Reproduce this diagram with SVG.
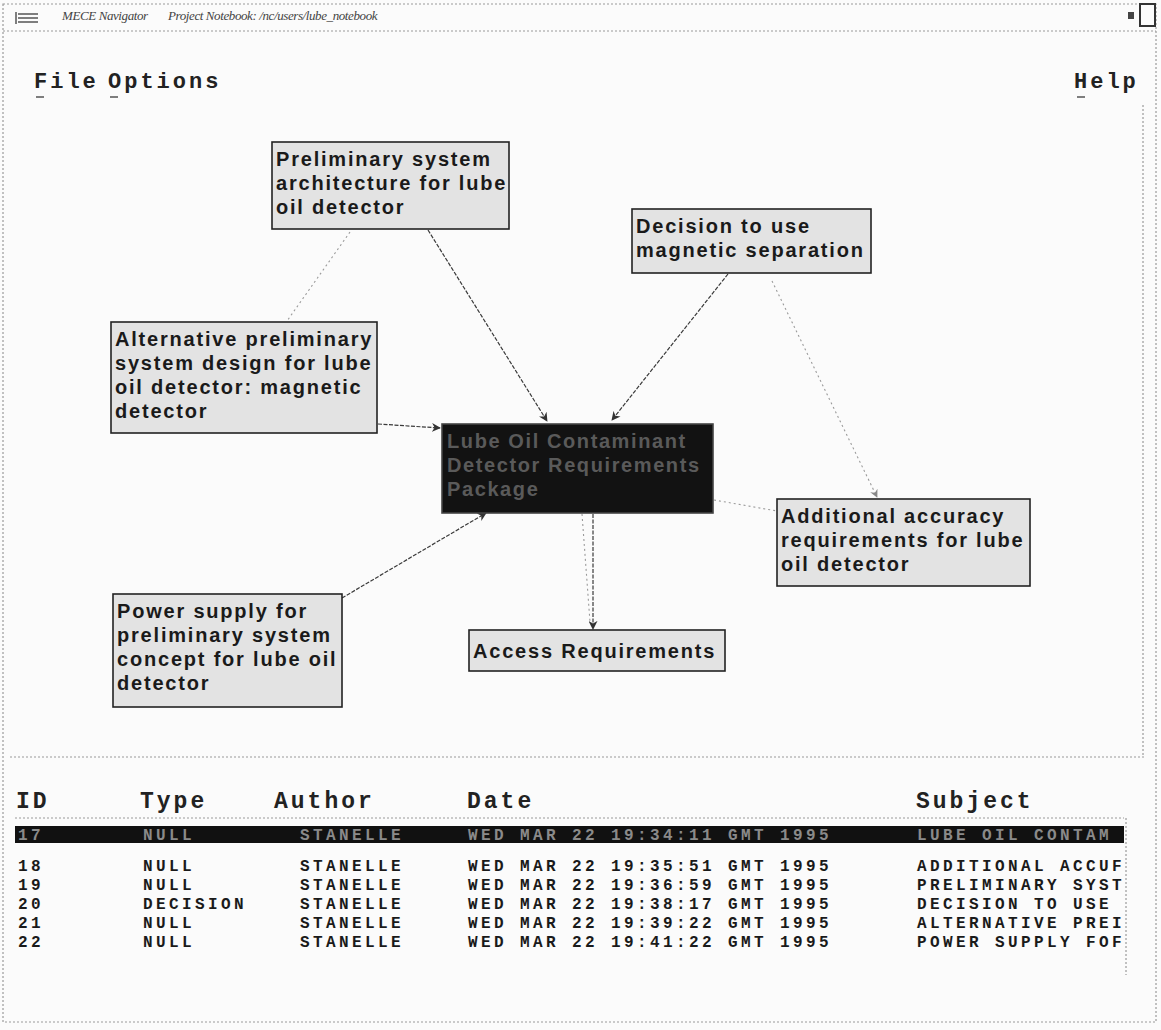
<svg xmlns="http://www.w3.org/2000/svg" width="1161" height="1030" viewBox="0 0 1161 1030">
<style>
.bg{fill:#fbfbfb}
.frame{fill:none;stroke:#9a9a9a;stroke-width:1.2;stroke-dasharray:2 2}
.title{font-family:"Liberation Serif",serif;font-style:italic;font-size:13px;letter-spacing:-0.4px;fill:#444}
.menu{font-family:"Liberation Mono",monospace;font-weight:bold;font-size:22px;letter-spacing:3px;fill:#222}
.node rect{fill:#e3e3e3;stroke:#222;stroke-width:1.6}
.node text{font-family:"Liberation Sans",Arial,sans-serif;font-weight:bold;font-size:20px;letter-spacing:1.8px;fill:#1a1a1a}
.dark rect{fill:#121212;stroke:#444;stroke-width:1.6}
.dark text{font-family:"Liberation Sans",Arial,sans-serif;font-weight:bold;font-size:20px;letter-spacing:1.6px;fill:#5a5a5a}
.c{fill:none;stroke:#3a3a3a;stroke-width:1.2;stroke-dasharray:4 1.5}
.cl{fill:none;stroke:#9a9a9a;stroke-width:1.1;stroke-dasharray:2 3}
.hd{font-family:"Liberation Mono",monospace;font-weight:bold;font-size:23px;letter-spacing:3px;fill:#222}
.row{font-family:"Liberation Mono",monospace;font-weight:bold;font-size:16px;letter-spacing:3.4px;fill:#1a1a1a}
.sel{font-family:"Liberation Mono",monospace;font-weight:bold;font-size:16px;letter-spacing:3.4px;fill:#8a8a8a}
</style>
<defs>
<marker id="ah" viewBox="0 0 10 10" refX="9" refY="5" markerWidth="9" markerHeight="9" markerUnits="userSpaceOnUse" orient="auto">
<path d="M0,0 L10,5 L0,10 L3,5 Z" fill="#333"/>
</marker>
<marker id="ahl" viewBox="0 0 10 10" refX="9" refY="5" markerWidth="8" markerHeight="8" markerUnits="userSpaceOnUse" orient="auto">
<path d="M0,0 L10,5 L0,10 L3,5 Z" fill="#888"/>
</marker>
</defs>
<rect class="bg" x="0" y="0" width="1161" height="1030"/>
<g id="window">
<rect class="frame" x="3" y="4" width="1153" height="1018"/>
<line class="frame" x1="3" y1="31" x2="1156" y2="31"/>
<path d="M18,14 h20 M18,18 h20 M18,22 h20 M16,12 v12" stroke="#555" stroke-width="1.5" fill="none"/>
<text class="title" x="62" y="20">MECE Navigator</text>
<text class="title" x="168" y="20">Project Notebook: /nc/users/lube_notebook</text>
<rect x="1128" y="12" width="6" height="7" fill="#444"/>
<rect x="1140" y="4" width="15" height="22" fill="none" stroke="#333" stroke-width="2"/>
<text class="menu" x="34" y="88">File</text>
<text class="menu" x="108" y="88">Options</text>
<text class="menu" x="1074" y="88">Help</text>
<path d="M36,97 h8 M110,97 h8 M1077,97 h8" stroke="#555" stroke-width="1.5"/>
<line class="frame" x1="1143" y1="105" x2="1143" y2="757"/>
<line class="frame" x1="10" y1="757" x2="1145" y2="757"/>
</g>
<g id="connectors">
<line class="c" x1="428" y1="230" x2="547" y2="421" marker-end="url(#ah)"/>
<line class="c" x1="728" y1="274" x2="612" y2="420" marker-end="url(#ah)"/>
<line class="c" x1="378" y1="424" x2="440" y2="428" marker-end="url(#ah)"/>
<line class="c" x1="342" y1="598" x2="486" y2="513" marker-end="url(#ah)"/>
<line class="c" x1="593" y1="514" x2="593" y2="629" marker-end="url(#ah)"/>
<line class="cl" x1="582" y1="514" x2="590" y2="622"/>
<line class="cl" x1="350" y1="232" x2="287" y2="321"/>
<line class="cl" x1="772" y1="281" x2="877" y2="497" marker-end="url(#ahl)"/>
<line class="cl" x1="714" y1="500" x2="777" y2="511"/>
</g>
<g id="n-prelim" class="node">
<rect x="272" y="142" width="237" height="87"/>
<text x="276" y="166">Preliminary system</text>
<text x="276" y="190">architecture for lube</text>
<text x="276" y="214">oil detector</text>
</g>
<g id="n-decision" class="node">
<rect x="632" y="209" width="239" height="64"/>
<text x="636" y="233">Decision to use</text>
<text x="636" y="257">magnetic separation</text>
</g>
<g id="n-alt" class="node">
<rect x="111" y="322" width="266" height="111"/>
<text x="115" y="346">Alternative preliminary</text>
<text x="115" y="370">system design for lube</text>
<text x="115" y="394">oil detector: magnetic</text>
<text x="115" y="418">detector</text>
</g>
<g id="n-central" class="dark">
<rect x="442" y="424" width="271" height="89"/>
<text x="447" y="448">Lube Oil Contaminant</text>
<text x="447" y="472">Detector Requirements</text>
<text x="447" y="496">Package</text>
</g>
<g id="n-additional" class="node">
<rect x="777" y="499" width="253" height="87"/>
<text x="781" y="523">Additional accuracy</text>
<text x="781" y="547">requirements for lube</text>
<text x="781" y="571">oil detector</text>
</g>
<g id="n-power" class="node">
<rect x="113" y="594" width="229" height="113"/>
<text x="117" y="618">Power supply for</text>
<text x="117" y="642">preliminary system</text>
<text x="117" y="666">concept for lube oil</text>
<text x="117" y="690">detector</text>
</g>
<g id="n-access" class="node">
<rect x="469" y="630" width="256" height="41"/>
<text x="473" y="658">Access Requirements</text>
</g>
<g id="table">
<text class="hd" x="16" y="808">ID</text>
<text class="hd" x="140" y="808">Type</text>
<text class="hd" x="274" y="808">Author</text>
<text class="hd" x="467" y="808">Date</text>
<text class="hd" x="916" y="808">Subject</text>
<line class="frame" x1="15" y1="818" x2="1124" y2="818"/>
<rect x="15" y="826" width="1109" height="17" fill="#111"/>
<text class="sel" x="18" y="840">17</text>
<text class="sel" x="143" y="840">NULL</text>
<text class="sel" x="300" y="840">STANELLE</text>
<text class="sel" x="468" y="840">WED MAR 22 19:34:11 GMT 1995</text>
<text class="sel" x="917" y="840">LUBE OIL CONTAM</text>
<g class="row">
<text x="18" y="871">18</text><text x="143" y="871">NULL</text><text x="300" y="871">STANELLE</text><text x="468" y="871">WED MAR 22 19:35:51 GMT 1995</text><text x="917" y="871">ADDITIONAL ACCUF</text>
<text x="18" y="890">19</text><text x="143" y="890">NULL</text><text x="300" y="890">STANELLE</text><text x="468" y="890">WED MAR 22 19:36:59 GMT 1995</text><text x="917" y="890">PRELIMINARY SYST</text>
<text x="18" y="909">20</text><text x="143" y="909">DECISION</text><text x="300" y="909">STANELLE</text><text x="468" y="909">WED MAR 22 19:38:17 GMT 1995</text><text x="917" y="909">DECISION TO USE</text>
<text x="18" y="928">21</text><text x="143" y="928">NULL</text><text x="300" y="928">STANELLE</text><text x="468" y="928">WED MAR 22 19:39:22 GMT 1995</text><text x="917" y="928">ALTERNATIVE PREI</text>
<text x="18" y="947">22</text><text x="143" y="947">NULL</text><text x="300" y="947">STANELLE</text><text x="468" y="947">WED MAR 22 19:41:22 GMT 1995</text><text x="917" y="947">POWER SUPPLY FOF</text>
</g>
<line class="frame" x1="1126" y1="818" x2="1126" y2="975"/>
</g>
</svg>
